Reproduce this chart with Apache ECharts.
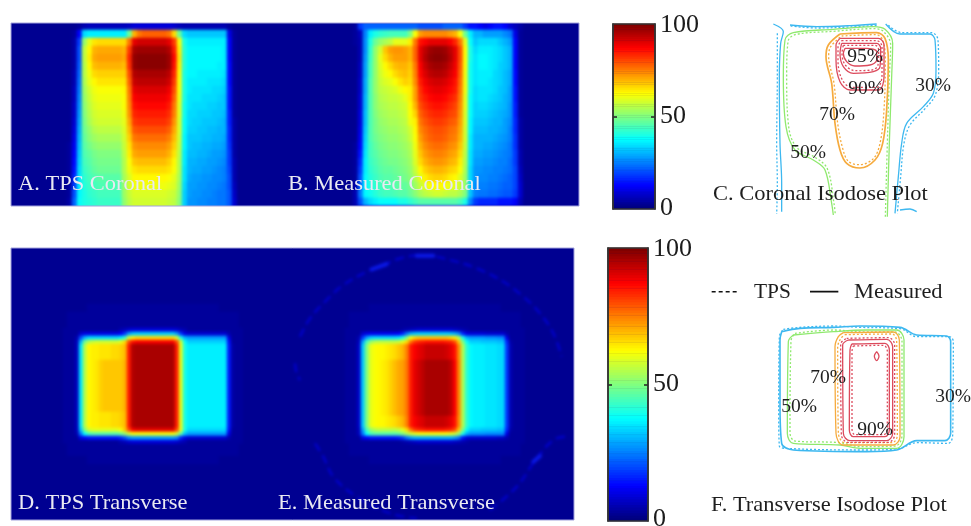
<!DOCTYPE html>
<html><head><meta charset="utf-8">
<style>html,body{margin:0;background:#fff}#c{width:971px;height:526px;filter:blur(0.5px)}
canvas[data-zr-dom-id="zr_1"]{filter:blur(1.8px);clip-path:path("M11 23H579V206H11Z M11 248H574V520H11Z")}</style>
<script src="https://cdn.jsdelivr.net/npm/echarts@6/dist/echarts.min.js"></script>
</head><body><div id="c"></div>
<script>
const coronalTps=[
[2,2,2,3,5,6,6,6,6,6,6,6,6,7,9,9,9,9,9,9,9,9,8,6,5,5,5,5,5,5,5,5,5,3,2,2],
[2,2,3,12,34,36,36,36,36,36,36,36,36,48,70,76,78,78,78,78,78,76,66,48,34,32,32,32,32,32,32,32,32,10,3,2],
[2,2,4,18,52,60,65,66,66,66,66,66,66,76,90,92,92,92,92,92,92,90,82,62,40,36,36,36,36,36,36,36,36,12,3,2],
[2,2,4,20,56,63,70,71,71,71,71,71,70,82,96,97,97,97,97,97,97,95,85,64,41,37,37,37,37,37,37,37,36,12,3,2],
[2,2,4,20,56,64,71,72,72,72,72,72,71,84,98,99,99,99,99,99,99,97,87,65,41,37,37,37,37,37,37,37,36,12,3,2],
[2,2,4,21,55,63,69,70,70,70,70,70,69,83,98,99,99,99,99,99,99,97,86,64,41,37,37,37,37,37,37,36,36,13,3,2],
[2,2,5,22,55,61,66,67,67,67,67,67,67,80,95,96,96,96,96,96,96,94,84,63,40,37,37,36,36,36,36,36,35,13,3,2],
[2,2,5,23,54,60,63,65,65,65,65,65,65,78,93,94,94,94,94,94,94,92,82,62,40,36,36,36,36,35,35,35,34,13,3,2],
[2,2,6,24,53,58,61,62,62,62,62,62,63,76,90,91,91,91,91,91,91,89,80,62,40,36,35,35,35,35,34,34,33,14,3,2],
[2,2,6,25,52,57,60,61,61,61,61,61,62,75,88,89,89,89,89,89,89,87,78,61,40,35,35,35,34,34,34,33,32,14,3,2],
[2,2,7,26,51,56,59,60,60,60,60,60,62,74,86,87,87,87,87,87,87,85,76,60,39,35,34,34,34,33,33,32,32,14,3,2],
[2,2,7,27,50,55,58,59,59,59,59,59,61,73,84,85,85,85,85,85,85,83,75,60,39,34,34,33,33,33,32,32,31,15,3,2],
[2,2,8,28,49,54,57,58,58,58,58,58,60,71,82,83,83,83,83,83,83,81,73,59,38,34,33,33,32,32,32,31,30,15,4,2],
[2,2,9,29,48,52,55,56,56,56,56,56,59,69,79,80,80,80,80,80,80,78,71,59,38,33,33,32,32,31,31,30,30,16,4,2],
[2,2,10,30,47,51,53,54,54,54,54,54,58,67,76,77,77,77,77,77,77,75,69,58,37,32,32,32,31,31,30,30,29,16,4,2],
[2,3,11,31,46,49,51,52,52,52,52,52,57,65,73,74,74,74,74,74,74,72,67,57,37,32,31,31,30,30,29,29,28,17,4,2],
[2,3,12,32,45,47,49,50,50,50,50,50,56,64,71,72,72,72,72,72,72,70,65,56,36,31,31,30,30,29,28,28,27,18,4,2],
[2,3,13,33,44,46,48,49,49,49,49,49,55,62,68,69,69,69,69,69,69,67,63,55,36,30,30,29,29,28,28,27,26,18,5,2],
[2,3,14,34,43,45,47,48,48,48,48,48,55,61,65,66,66,66,66,66,66,65,62,55,35,30,29,29,28,28,27,26,25,19,5,2],
[2,3,16,35,42,44,45,46,46,46,46,46,54,59,63,63,63,63,63,63,63,62,60,54,35,29,28,28,27,27,26,26,25,20,5,2],
[2,3,18,36,41,43,44,45,45,45,45,45,53,58,61,61,61,61,61,61,61,60,59,53,34,28,28,27,27,26,26,25,24,20,6,2],
[2,3,20,37,40,42,43,44,44,44,44,44,53,57,59,59,59,59,59,59,59,58,57,52,33,28,27,27,26,26,25,24,24,21,7,2],
[2,4,22,38,40,41,42,43,43,43,43,43,52,56,58,58,58,58,58,58,58,57,56,51,33,27,27,26,26,25,25,24,24,21,8,2],
[2,4,22,38,40,41,42,43,43,43,43,43,52,56,58,58,58,58,58,58,58,57,56,51,33,27,27,26,26,25,25,24,24,21,8,2]];
const coronalMeasured=[
[2,3,18,22,22,22,22,22,22,22,22,22,22,22,20,20,20,20,20,22,22,22,22,18,14,14,12,10,12,14,14,12,8,6,4,2],
[2,3,6,25,36,40,42,43,44,44,44,44,50,62,72,74,74,74,74,74,72,70,62,48,36,30,30,28,28,28,28,26,24,10,3,2],
[2,3,5,26,40,48,52,54,56,60,60,60,64,76,86,88,90,90,90,90,88,84,76,60,38,32,34,34,34,34,32,30,28,12,3,2],
[2,2,5,26,42,52,58,68,72,73,73,72,70,78,90,94,97,98,98,97,94,90,80,62,40,34,36,36,36,35,34,32,30,12,3,2],
[2,2,5,27,43,52,60,66,70,72,72,72,70,78,90,95,98,99,99,98,95,90,80,62,40,35,37,37,36,35,34,32,30,12,3,2],
[2,2,6,28,44,52,59,63,66,69,70,70,68,76,88,93,96,97,97,96,93,89,79,62,39,35,37,37,36,35,33,32,30,12,3,2],
[2,2,6,28,44,52,58,61,63,66,68,69,67,75,87,91,94,95,95,94,91,88,78,61,39,35,36,36,36,34,33,31,29,13,3,2],
[2,2,7,29,45,52,57,59,60,62,65,67,66,74,85,89,91,92,92,91,89,86,77,61,39,35,36,36,35,34,33,31,29,13,3,2],
[2,2,7,29,45,52,56,57,58,59,61,63,64,72,83,87,89,90,90,89,87,85,76,61,39,34,35,35,35,34,32,31,28,14,3,2],
[2,2,8,30,45,51,55,56,57,57,58,60,64,72,82,85,87,88,88,87,85,83,75,60,38,34,35,35,34,33,32,30,28,14,3,2],
[2,2,8,30,45,51,54,55,56,56,57,58,63,70,80,83,85,86,86,85,83,81,74,60,38,33,34,34,33,32,31,30,27,15,3,2],
[2,2,9,31,45,50,53,54,55,55,56,57,62,67,78,81,83,84,84,83,81,80,73,59,38,33,33,33,32,31,30,29,27,15,3,2],
[2,2,9,31,45,49,52,53,54,54,55,56,61,64,76,79,81,82,82,81,79,78,72,59,37,32,32,32,31,30,30,28,26,16,4,2],
[2,2,10,32,45,49,51,52,53,53,54,55,58,63,74,77,79,80,80,79,77,76,71,58,37,31,31,31,30,30,29,28,25,16,4,2],
[2,2,11,33,45,48,50,51,52,52,53,54,57,62,72,76,78,79,79,78,76,75,70,58,36,30,30,30,30,29,28,27,25,17,4,2],
[2,3,12,34,44,47,49,50,51,51,52,53,55,61,70,74,76,77,77,76,74,73,68,57,36,30,30,29,29,28,27,26,24,17,4,2],
[2,3,14,35,44,46,48,49,50,50,51,52,54,60,68,72,74,75,75,74,72,71,66,56,35,29,29,28,28,27,26,25,24,18,5,2],
[2,3,16,36,43,45,47,48,49,49,50,51,53,59,66,70,72,73,73,72,70,69,64,55,35,28,28,27,27,26,25,25,23,18,5,2],
[2,3,18,36,42,44,46,47,47,48,49,50,52,57,63,67,69,70,70,69,67,66,62,54,34,27,27,26,26,25,25,24,23,19,6,2],
[2,3,20,37,41,43,45,46,46,47,48,49,51,55,60,64,66,67,67,66,64,63,59,53,34,27,26,26,25,25,24,23,22,19,7,2],
[2,4,22,37,40,42,44,45,45,46,47,47,49,53,57,60,62,63,63,62,60,60,57,52,33,26,25,25,24,24,23,22,22,19,8,2],
[2,5,24,37,39,41,43,44,44,45,46,46,48,51,54,56,57,58,58,57,56,56,54,50,32,25,24,24,23,23,22,21,21,18,8,2],
[2,5,20,30,34,36,38,38,38,38,40,40,42,44,46,46,46,46,46,46,46,46,44,40,26,18,16,16,16,16,14,14,14,12,6,2],
[2,3,6,10,12,12,12,12,12,12,12,12,12,14,14,14,14,14,14,14,14,14,14,12,10,8,8,8,8,8,8,8,6,6,3,2]];

const haloWide=[2,2,2,3,3,3,3,3,3,3,3,3,3,3,3,3,3,3,3,3,3,3,3,3,3,3,3,3,3,3,3,3,3,3,3,3,3,3,3,3,3,3,3,3,3,3,2,2,2];
const haloNarrow=[2,2,2,2,2,2,2,2,3,3,3,3,3,3,3,3,3,3,3,3,3,3,3,3,3,3,3,3,3,3,3,3,3,3,3,3,3,3,3,3,3,2,2,2,2,2,2,2,2];

const tpsT0=[2,2,3,3,3,3,3,3,3,3,3,3,3,3,3,3,5,6,8,9,9,9,9,9,9,9,9,9,9,9,8,6,5,3,3,3,3,3,3,3,3,3,3,3,3,3,3,2,2];
const tpsT1=[2,2,3,3,3,3,8,10,10,10,10,10,10,10,10,10,12,18,28,32,33,33,33,33,33,33,33,33,33,33,28,18,10,8,8,8,8,8,8,8,8,8,8,5,3,3,3,2,2];
const tpsT2=[2,2,3,3,3,5,20,30,34,34,34,34,34,34,34,34,36,42,58,64,66,66,66,66,66,66,66,66,66,66,58,40,30,28,28,28,28,28,28,28,28,28,28,10,3,3,3,2,2];
const tpsT3=[2,2,3,3,3,6,30,48,55,57,58,58,58,58,58,58,60,66,80,86,88,88,88,88,88,88,88,88,88,88,80,58,38,33,33,33,33,33,33,33,33,33,33,14,3,3,3,2,2];
const tpsUpper=[2,2,3,3,3,6,35,55,63,64,64,65,65,65,66,66,67,69,85,95,96,96,96,96,96,96,96,96,96,96,85,60,40,36,36,36,36,36,36,36,36,36,36,15,4,3,3,2,2];
const tpsBody=[2,2,3,3,3,6,35,55,63,64,65,67,68,68,68,68,68,70,85,95,96,96,96,96,96,96,96,96,96,96,85,60,40,36,36,36,36,36,36,36,36,36,36,15,4,3,3,2,2];
const tpsB1=[2,2,3,3,3,6,32,50,58,60,60,60,60,60,60,60,62,68,80,88,90,90,90,90,90,90,90,90,90,90,80,60,40,34,34,34,34,34,34,34,34,34,34,14,3,3,3,2,2];
const tpsB2=[2,2,3,3,3,5,24,38,44,46,46,46,46,46,46,46,48,52,58,62,62,62,62,62,62,62,62,62,62,62,58,46,32,28,28,28,28,28,28,28,28,28,28,10,3,3,3,2,2];
const tpsB3=[2,2,3,3,3,3,10,12,14,14,14,14,14,14,14,14,16,20,26,28,28,28,28,28,28,28,28,28,28,28,26,16,10,8,8,8,8,8,8,8,8,8,8,5,3,3,3,2,2];

const measT0=[2,2,3,3,3,3,3,3,3,3,3,3,3,3,3,3,4,5,6,7,8,8,8,8,8,8,8,8,8,7,6,5,4,3,3,3,3,3,3,3,3,3,3,3,3,3,3,2,2];
const measT1=[2,2,3,3,3,3,8,10,11,11,11,11,11,11,11,12,16,24,30,32,33,33,33,33,33,33,33,33,32,30,26,16,10,9,9,9,9,8,8,8,8,8,5,3,3,3,3,2,2];
const measT2=[2,2,3,3,3,5,18,28,33,34,34,34,34,34,34,35,40,50,62,66,68,68,68,68,68,68,68,68,66,64,55,40,30,28,28,28,28,27,27,27,26,26,10,3,3,3,3,2,2];
const measT3=[2,2,3,3,3,6,28,44,52,55,56,56,56,56,56,57,60,66,76,82,84,85,86,86,86,86,86,85,84,80,68,50,38,33,33,33,32,32,32,32,31,31,16,4,3,3,3,2,2];
const measUpper=[2,2,3,3,3,7,32,50,60,62,63,63,64,65,66,68,70,75,85,88,90,91,93,93,93,93,93,92,90,86,74,55,42,37,36,36,36,35,35,35,34,34,18,5,3,3,3,2,2];
const measBody=[2,2,3,3,3,7,32,50,60,62,63,64,65,67,69,71,72,76,85,90,92,94,96,96,96,96,96,96,94,88,75,55,42,37,36,36,36,35,35,35,34,34,18,5,3,3,3,2,2];
const measB2=[2,2,3,3,3,6,24,38,44,46,46,46,46,46,46,47,50,54,58,60,62,62,62,62,62,62,62,62,60,58,52,40,30,27,27,27,27,26,26,26,26,26,10,3,3,3,3,2,2];
const measB3=[2,2,3,3,3,3,10,12,14,14,14,14,14,14,14,15,18,24,28,30,30,30,30,30,30,30,30,30,30,28,24,14,9,8,8,8,8,8,8,8,7,7,5,3,3,3,3,2,2];

const transverseTps=[haloNarrow,haloNarrow,haloWide,haloWide,haloWide,haloWide,tpsT0,tpsT1,tpsT2,tpsT3,
 tpsUpper,tpsUpper,tpsUpper,tpsUpper,tpsBody,tpsBody,tpsBody,tpsBody,tpsBody,tpsBody,tpsBody,tpsBody,tpsBody,tpsBody,tpsBody,tpsBody,tpsBody,
 tpsUpper,tpsUpper,tpsUpper,tpsUpper,tpsB1,tpsB2,tpsB3,tpsT0,haloWide,haloWide,haloWide,haloNarrow,haloNarrow];
const transverseMeasured=[haloNarrow,haloNarrow,haloWide,haloWide,haloWide,haloWide,measT0,measT1,measT2,measT3,
 measUpper,measUpper,measUpper,measUpper,measBody,measBody,measBody,measBody,measBody,measBody,measBody,measBody,measBody,measBody,measBody,measBody,measBody,
 measBody,measUpper,measUpper,measUpper,measT3,measB2,measB3,measT0,haloWide,haloWide,haloWide,haloNarrow,haloNarrow];

const colorbarLevels=Array.from({length:101},(_,i)=>String(i));
const jet=['#00007c','#0000ff','#0080ff','#00ffff','#80ff80','#ffff00','#ff8000','#ff0000','#800000'];

const ringArcs=[
[[30,290],[60,235],[110,180],[160,135],[240,90],[270,80],[330,55],[400,45],[480,60],[560,85],[640,125],[700,170],[750,220],[790,280],[815,350]],
[[15,370],[20,400],[30,420]],
[[75,610],[100,650],[130,710],[200,770],[300,820],[380,835]],
[[600,810],[680,740],[740,655],[790,600],[825,590]]];
const ringSpots=[[[245,88],[290,72]],[[380,47],[430,47]],[[730,665],[750,648]]];

const coronal30M=[[[220,42],[250,65],[242,100],[238,200],[240,400],[245,520],[245,605]],
 [[270,45],[350,50],[450,47],[530,42]],
 [[557,42],[600,72],[690,72],[705,90],[708,180],[700,250],[670,290],[620,340],[605,400],[595,500],[585,610]],
 [[600,600],[630,597],[650,605]]];
const coronal30T=[[[232,70],[232,200],[230,400],[232,520],[230,612]],
 [[272,48],[350,54],[450,51],[530,46]],
 [[565,46],[605,68],[695,68],[714,90],[716,180],[706,255],[676,295],[630,345],[612,400],[602,500],[592,610]]];
const coronal50M=[[[562,620],[568,400],[575,200],[578,100],[555,58],[520,50],[400,58],[280,68],[255,90],[250,200],[258,350],[285,420],[340,450],[375,480],[395,580],[400,615]]];
const coronal50T=[[[556,620],[562,400],[568,200],[572,105],[550,64],[520,56],[400,64],[285,74],[264,95],[260,200],[266,350],[290,412],[345,442],[382,476],[402,580],[406,615]]];
const coronal70M=[[[420,72],[530,68],[555,85],[565,150],[560,300],[548,400],[525,450],[480,474],[440,460],[420,420],[405,340],[395,220],[378,140],[385,105],[420,72]]];
const coronal70T=[[[425,78],[528,74],[548,90],[556,150],[552,300],[540,400],[520,446],[478,464],[445,454],[428,415],[413,340],[402,220],[386,140],[392,110],[425,78]]];
const coronal90M=[[[420,85],[535,85],[552,105],[552,200],[535,240],[450,240],[420,215],[408,150],[408,105],[420,85]],
 [[425,100],[530,100],[542,115],[540,170],[520,185],[460,190],[430,170],[420,130],[425,100]],
 [[435,115],[500,115],[530,125],[530,150],[510,165],[465,168],[440,155],[430,130],[435,115]]];
const coronal90T=[[[425,92],[530,92],[546,110],[546,195],[530,232],[455,232],[426,208],[414,150],[414,110],[425,92]],
 [[430,106],[526,106],[536,120],[534,165],[516,180],[465,182],[436,165],[426,130],[430,106]]];

const transverse30M=[[[245,185],[300,175],[400,172],[480,168],[600,172],[650,195],[740,198],[752,215],[752,490],[735,512],[650,512],[590,540],[500,545],[280,540],[245,520],[240,400],[240,210],[245,185]]];
const transverse30T=[[[250,178],[300,172],[400,168],[480,172],[600,176],[650,200],[748,200],[760,215],[758,495],[745,520],[650,518],[595,536],[500,540],[275,536],[238,528],[236,400],[238,200],[250,178]]];
const transverse50M=[[[280,195],[400,185],[500,180],[590,180],[612,210],[612,500],[590,535],[480,535],[420,525],[280,520],[262,490],[265,215],[280,195]]];
const transverse50T=[[[285,190],[400,180],[500,186],[585,186],[606,214],[606,496],[586,528],[480,530],[420,518],[285,513],[270,488],[273,212],[285,190]]];
const transverse70M=[[[430,188],[580,186],[598,210],[600,500],[580,525],[430,525],[408,490],[405,230],[415,200],[430,188]]];
const transverse70T=[[[435,194],[576,192],[590,214],[592,496],[576,518],[435,518],[415,488],[413,232],[422,206],[435,194]]];
const transverse90M=[[[445,210],[560,208],[578,230],[578,490],[560,512],[450,512],[430,490],[428,225],[445,210]],
 [[530,245],[537,258],[530,272],[523,258],[530,245]],
 [[455,222],[555,220],[568,240],[568,480],[555,500],[460,500],[448,480],[450,240],[455,222]]];
const transverse90T=[[[440,205],[565,203],[584,225],[584,494],[565,517],[445,517],[424,494],[422,222],[440,205]],
 [[460,228],[550,226],[562,244],[562,476],[550,494],[465,494],[456,476],[456,244],[460,228]]];
const legendDashed=[[35,65],[115,65]];
const legendSolid=[[330,65],[415,65]];

const isoColors={p30:'#3db8f0',p50:'#8fe96e',p70:'#f6ab3e',p90:'#dc4a5c'};
const serif='"Liberation Serif","Times New Roman",serif';

const grid=[],xAxis=[],yAxis=[],series=[];
const range=n=>Array.from({length:n},(_,i)=>i);
function catGrid(box,cols,rows,extra){
  grid.push(Object.assign({outerBoundsMode:'none',zlevel:1},box,extra||{}));
  const g=grid.length-1;
  xAxis.push({type:'category',gridIndex:g,show:false,data:range(cols)});
  yAxis.push({type:'category',gridIndex:g,show:false,inverse:true,data:range(rows)});
  return xAxis.length-1;
}
function valGrid(box,xMax,yMax){
  grid.push(Object.assign({outerBoundsMode:'none'},box));
  const g=grid.length-1;
  xAxis.push({type:'value',gridIndex:g,show:false,min:0,max:xMax});
  yAxis.push({type:'value',gridIndex:g,show:false,inverse:true,min:0,max:yMax});
  return xAxis.length-1;
}
const heatIdx=[];
function heat(a,table){
  const data=[];
  table.forEach((row,y)=>row.forEach((v,x)=>data.push([x,y,v])));
  heatIdx.push(series.length);
  series.push({type:'heatmap',zlevel:1,xAxisIndex:a,yAxisIndex:a,data,silent:true,itemStyle:{borderWidth:0},progressive:0,emphasis:{disabled:true}});
}
function lines(a,paths,color,dashed,width,extra){
  paths.forEach(p=>series.push(Object.assign({type:'line',xAxisIndex:a,yAxisIndex:a,data:p,symbol:'none',smooth:0.35,silent:true,z:4,
    lineStyle:{color,width:width||1.3,type:dashed?[2,2]:'solid'}},extra||{})));
}
const panelBg={show:true,backgroundColor:'#000091',borderWidth:0};
catGrid({left:1,top:13,width:588,height:203},1,1,panelBg);
heat(catGrid({left:62,top:22,width:180,height:192},36,24),coronalTps);
heat(catGrid({left:348,top:22,width:180,height:192},36,24),coronalMeasured);
catGrid({left:1,top:238,width:583,height:292},1,1,panelBg);
heat(catGrid({left:55,top:304,width:196,height:160},49,40),transverseTps);
heat(catGrid({left:337,top:304,width:196,height:160},49,40),transverseMeasured);

function colorbar(box){
  grid.push(Object.assign({outerBoundsMode:'none',show:true,backgroundColor:'#00007c',borderWidth:0},box));
  const g=grid.length-1;
  xAxis.push({type:'category',gridIndex:g,show:false,data:['dose']});
  const a=xAxis.length-1;
  const every=i=>i%50===0;
  yAxis.push({type:'category',gridIndex:g,position:'right',data:colorbarLevels,z:5,
    axisLine:{show:true,lineStyle:{color:'#333',width:1.5}},
    axisTick:{show:true,alignWithLabel:true,inside:true,length:4,interval:i=>i===50,lineStyle:{color:'#222',width:1.5}},
    axisLabel:{show:true,interval:every,fontFamily:serif,fontSize:26,color:'#1c1c1c',margin:5}});
  heatIdx.push(series.length);
  series.push({type:'heatmap',xAxisIndex:a,yAxisIndex:yAxis.length-1,silent:true,progressive:0,itemStyle:{borderWidth:0},emphasis:{disabled:true},
    data:colorbarLevels.map((l,i)=>[0,i,i])});
  xAxis.push({type:'category',gridIndex:g,show:false,data:['dose']});
  yAxis.push({type:'category',gridIndex:g,position:'left',data:colorbarLevels,z:5,
    axisLine:{show:true,lineStyle:{color:'#333',width:1.5}},
    axisTick:{show:true,alignWithLabel:true,inside:true,length:4,interval:i=>i===50,lineStyle:{color:'#222',width:1.5}},
    axisLabel:{show:false}});
}
colorbar({left:613,top:24,width:42,height:185});
colorbar({left:608,top:248,width:40,height:273});

const isoC=valGrid({left:700,top:10,width:271,height:210},813,630);
lines(isoC,coronal30M,isoColors.p30,false);lines(isoC,coronal30T,isoColors.p30,true);
lines(isoC,coronal50M,isoColors.p50,false);lines(isoC,coronal50T,isoColors.p50,true);
lines(isoC,coronal70M,isoColors.p70,false,1.7);lines(isoC,coronal70T,isoColors.p70,true);
lines(isoC,coronal90M,isoColors.p90,false);lines(isoC,coronal90T,isoColors.p90,true);

const isoF=valGrid({left:700,top:270,width:271,height:256},813,768);
lines(isoF,transverse30M,isoColors.p30,false,1.6);lines(isoF,transverse30T,isoColors.p30,true);
lines(isoF,transverse50M,isoColors.p50,false);lines(isoF,transverse50T,isoColors.p50,true);
lines(isoF,transverse70M,isoColors.p70,false);lines(isoF,transverse70T,isoColors.p70,true);
lines(isoF,transverse90M,isoColors.p90,false);lines(isoF,transverse90T,isoColors.p90,true);
lines(isoF,[legendDashed],'#111',true,1.5,{smooth:false,lineStyle:{color:'#111',width:1.5,type:[4,3]}});
lines(isoF,[legendSolid],'#111',false,1.6,{smooth:false});

const ring=valGrid({left:290,top:240,width:300,height:286},900,858);
ringArcs.forEach(p=>series.push({type:'line',zlevel:1,xAxisIndex:ring,yAxisIndex:ring,data:p,symbol:'none',smooth:0.4,silent:true,z:3,
  lineStyle:{color:'#0000d0',width:2.2,type:[9,5]}}));
ringSpots.forEach(p=>series.push({type:'line',zlevel:1,xAxisIndex:ring,yAxisIndex:ring,data:p,symbol:'none',silent:true,z:3,
  lineStyle:{color:'#0a18e8',width:4,cap:'round'}}));

function txt(s,x,y,size,color,align,sx){
  return {type:'text',x,y,z:100,zlevel:2,silent:true,scaleX:sx||1,originX:0,originY:0,
    style:{text:s,fontFamily:serif,fontSize:size,fill:color,textAlign:align||'left',textVerticalAlign:'middle'}};
}
const white='#e9e9f2',ink='#1e1e1e',cap=21,capScale=1.07;
const graphic={elements:[
  txt('A. TPS Coronal',18,184,cap,white,'left',capScale),
  txt('B. Measured Coronal',288,184,cap,white,'left',capScale),
  txt('D. TPS Transverse',18,503,cap,white,'left',capScale),
  txt('E. Measured Transverse',278,503,cap,white,'left',capScale),
  txt('C. Coronal Isodose Plot',713,194,cap,ink,'left',capScale),
  txt('F. Transverse Isodose Plot',711,505,cap,ink,'left',capScale),
  txt('TPS',754,292,cap,ink,'left',1.02),
  txt('Measured',854,292,cap,ink,'left',capScale),
  txt('95%',865,57,19.5,ink,'center'),txt('90%',866,89,19.5,ink,'center'),
  txt('70%',837,115,19.5,ink,'center'),txt('50%',808,153,19.5,ink,'center'),txt('30%',933,86,19.5,ink,'center'),
  txt('70%',828,378,19.5,ink,'center'),txt('50%',799,407,19.5,ink,'center'),
  txt('90%',875,430,19.5,ink,'center'),txt('30%',953,397,19.5,ink,'center'),
  {type:'rect',z:100,zlevel:2,silent:true,shape:{x:613,y:24,width:42,height:185},style:{fill:'none',stroke:'#333',lineWidth:1.5}},
  {type:'rect',z:100,zlevel:2,silent:true,shape:{x:608,y:248,width:40,height:273},style:{fill:'none',stroke:'#333',lineWidth:1.5}},
  {type:'rect',z:100,zlevel:2,silent:true,shape:{x:11,y:23,width:568,height:183},style:{fill:'none',stroke:'#a2a2dc',lineWidth:1}},
  {type:'rect',z:100,zlevel:2,silent:true,shape:{x:11,y:248,width:563,height:272},style:{fill:'none',stroke:'#a2a2dc',lineWidth:1}}
]};

const chart=echarts.init(document.getElementById('c'),null,{renderer:'canvas',width:971,height:526});
chart.setOption({animation:false,backgroundColor:'#fff',grid,xAxis,yAxis,series,graphic,
  visualMap:[{show:false,type:'continuous',min:0,max:100,dimension:2,seriesIndex:heatIdx,inRange:{color:jet}}]});
</script></body></html>
